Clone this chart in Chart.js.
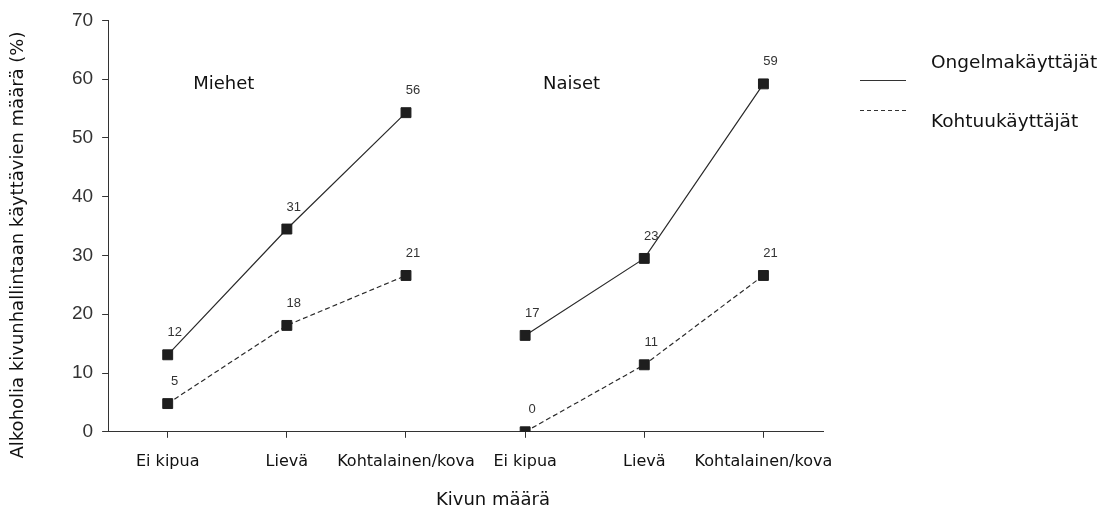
<!DOCTYPE html>
<html>
<head>
<meta charset="utf-8">
<script src="https://cdn.jsdelivr.net/npm/chart.js@4/dist/chart.umd.min.js"></script>
<style>
html,body{margin:0;padding:0;background:#fff;}
#wrap{width:1102px;height:512px;position:relative;}
</style>
</head>
<body>
<div id="wrap"><canvas id="c" width="1102" height="512"></canvas></div>
<script>
// ---- data ----
const categories = ['Ei kipua', 'Lievä', 'Kohtalainen/kova', 'Ei kipua', 'Lievä', 'Kohtalainen/kova'];
const groupNames = ['Miehet', 'Naiset'];
const seriesNames = ['Ongelmakäyttäjät', 'Kohtuukäyttäjät'];
// plotted heights (as drawn in the picture)
const menProblem = [13.1, 34.5, 54.3];
const menModerate = [4.8, 18.1, 26.6];
const womenProblem = [16.4, 29.5, 59.2];
const womenModerate = [0, 11.4, 26.6];
// printed value labels
const menProblemLabels = ['12', '31', '56'];
const menModerateLabels = ['5', '18', '21'];
const womenProblemLabels = ['17', '23', '59'];
const womenModerateLabels = ['0', '11', '21'];
const yMin = 0, yMax = 70, yStep = 10;
const yTitle = 'Alkoholia kivunhallintaan käyttävien määrä (%)';
const xTitle = 'Kivun määrä';

const pad = [null, null, null];
const INK = '#1e1e1e';
const SANS = '"DejaVu Sans", Verdana, sans-serif';

function ds(values, labels, dashed, isMen, series) {
  return {
    label: seriesNames[series],
    data: isMen ? values.concat(pad) : pad.concat(values),
    valueLabels: isMen ? labels.concat(pad) : pad.concat(labels),
    borderColor: '#2a2a2a',
    backgroundColor: INK,
    borderWidth: 1.2,
    borderDash: dashed ? [5, 3] : [],
    pointStyle: 'rect',
    pointRadius: 7,
    pointHoverRadius: 7,
    pointBorderWidth: 1,
    pointBorderColor: INK,
    pointBackgroundColor: INK,
    spanGaps: false,
    tension: 0
  };
}

const annotate = {
  id: 'annotate',
  afterDatasetsDraw(chart) {
    const ctx = chart.ctx;
    const xs = chart.scales.x, ys = chart.scales.y;
    ctx.save();
    // value labels
    ctx.fillStyle = '#333';
    ctx.font = '13px "Liberation Sans", Arial, sans-serif';
    ctx.textAlign = 'center';
    ctx.textBaseline = 'middle';
    chart.data.datasets.forEach((d, i) => {
      const meta = chart.getDatasetMeta(i);
      meta.data.forEach((pt, j) => {
        const t = d.valueLabels[j];
        if (t === null || t === undefined) return;
        ctx.fillText(t, pt.x + 7, pt.y - 22);
      });
    });
    // group names
    ctx.fillStyle = '#111';
    ctx.font = '18px ' + SANS;
    ctx.fillText(groupNames[0], xs.getPixelForValue(0.47), ys.getPixelForValue(59.2));
    ctx.fillText(groupNames[1], xs.getPixelForValue(3.39), ys.getPixelForValue(59.2));
    // axis titles
    ctx.font = '18px ' + SANS;
    ctx.fillText(xTitle, 493, 500);
    ctx.save();
    ctx.translate(18, 245);
    ctx.rotate(-Math.PI / 2);
    ctx.font = '18px ' + SANS;
    ctx.fillText(yTitle, 0, 0);
    ctx.restore();
    // legend
    const lx0 = 860, lx1 = 906, tx = 931;
    const rows = [{y: 80, ty: 63, dash: []}, {y: 110, ty: 122, dash: [4, 3]}];
    rows.forEach((r, k) => {
      ctx.strokeStyle = '#333';
      ctx.lineWidth = 1;
      ctx.setLineDash(r.dash);
      ctx.beginPath();
      ctx.moveTo(lx0, r.y + 0.5);
      ctx.lineTo(lx1, r.y + 0.5);
      ctx.stroke();
      ctx.setLineDash([]);
      ctx.textAlign = 'left';
      ctx.fillStyle = '#111';
      ctx.font = '18.5px ' + SANS;
      ctx.fillText(seriesNames[k], tx, r.ty);
    });
    ctx.restore();
  }
};

new Chart(document.getElementById('c'), {
  type: 'line',
  data: {
    labels: categories,
    datasets: [
      ds(menProblem, menProblemLabels, false, true, 0),
      ds(menModerate, menModerateLabels, true, true, 1),
      ds(womenProblem, womenProblemLabels, false, false, 0),
      ds(womenModerate, womenModerateLabels, true, false, 1)
    ]
  },
  options: {
    responsive: false,
    animation: false,
    layout: {padding: {left: 63, right: 279, top: 8, bottom: 27}},
    plugins: {legend: {display: false}, tooltip: {enabled: false}},
    scales: {
      x: {
        type: 'category',
        offset: true,
        grid: {offset: false, drawOnChartArea: false, drawTicks: true, tickLength: 6, color: '#333'},
        border: {color: '#333', width: 1},
        ticks: {color: '#111', padding: 14, font: {family: SANS, size: 16}, maxRotation: 0, autoSkip: false}
      },
      y: {
        min: yMin, max: yMax,
        grid: {drawOnChartArea: false, drawTicks: true, tickLength: 6, color: '#333'},
        border: {color: '#333', width: 1},
        ticks: {stepSize: yStep, color: '#333', padding: 9, font: {family: '"Liberation Sans", Arial, sans-serif', size: 19}}
      }
    }
  },
  plugins: [annotate]
});
</script>
</body>
</html>
